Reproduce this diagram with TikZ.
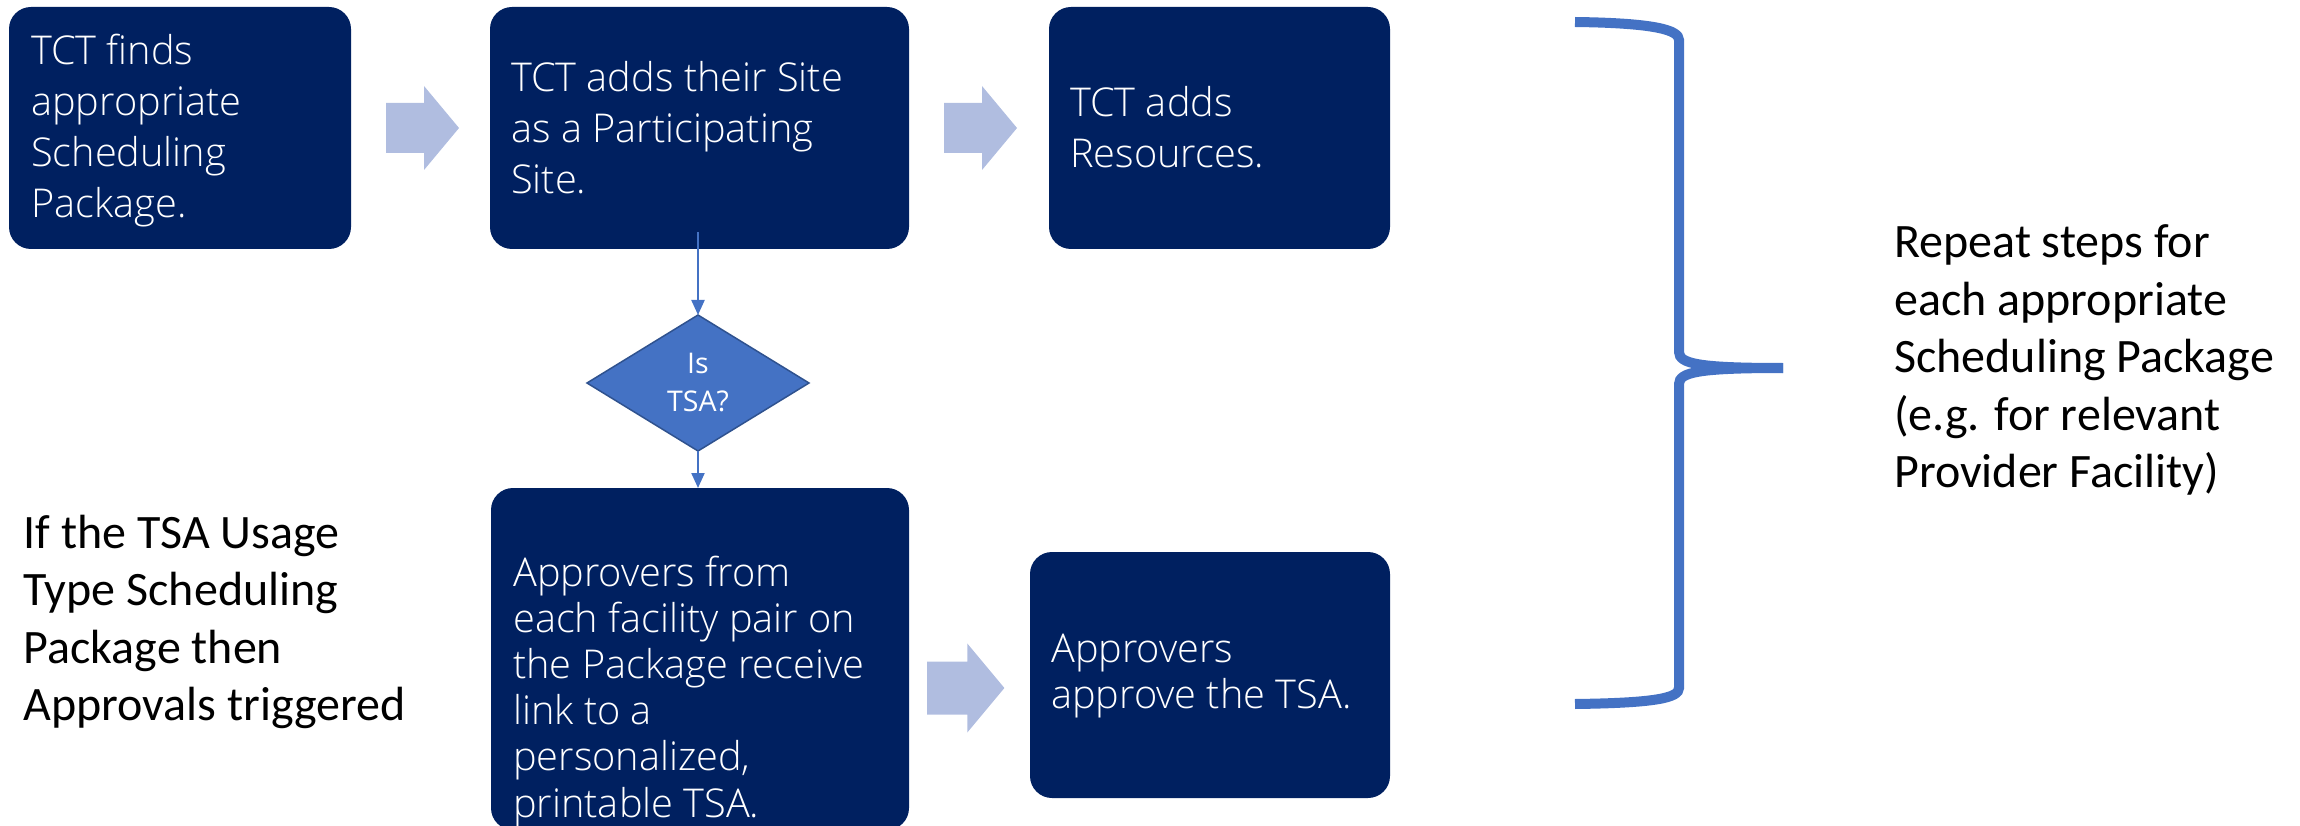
\documentclass[tikz,border=0pt]{standalone}
\usepackage{fontspec}
\usetikzlibrary{shapes.geometric,arrows.meta}
\newfontfamily\boxfont{Open Sans Light}
\newfontfamily\calfont{Carlito}
\newfontfamily\dfont{Open Sans}
\definecolor{navy}{HTML}{002060}
\definecolor{accblue}{HTML}{4472C4}
\definecolor{accdark}{HTML}{2F528F}
\definecolor{arrowfill}{HTML}{B0BDE0}
\tikzset{
  stepbox/.style={fill=navy, draw=none, rounded corners=22pt, inner sep=0pt, outer sep=0pt, anchor=north west},
  boxtext/.style={anchor=base west, inner sep=0pt, text=white, font=\boxfont\fontsize{39.7}{51}\selectfont},
  boxtextsm/.style={anchor=base west, inner sep=0pt, text=white, font=\boxfont\fontsize{39.7}{46.2}\selectfont},
  sidetext/.style={anchor=base west, inner sep=0pt, text=black, font=\calfont\fontsize{48}{57.5}\selectfont},
  decision/.style={diamond, fill=accblue, draw=accdark, line width=1.5pt, inner sep=0pt, outer sep=0pt,
    minimum width=222pt, minimum height=136pt, text=white, align=center, font=\dfont\fontsize{28.5}{38}\selectfont},
  conn/.style={draw=accblue, line width=2.2pt, -{Triangle[length=15pt,width=13pt]}},
  bracestyle/.style={draw=accblue, line width=10pt, line cap=butt},
  pics/blockarrow/.style={code={\fill[arrowfill] (0,-25) -- (38,-25) -- (38,-42) -- (73,0) -- (38,42) -- (38,25) -- (0,25) -- cycle;}}
}
\begin{document}
\begin{tikzpicture}[x=1pt,y=-1pt]
\useasboundingbox (0,0) rectangle (2300,826);
% boxes
\node[stepbox, minimum width=342pt, minimum height=242pt] (b1) at (9,7) {};
\node[stepbox, minimum width=419pt, minimum height=242pt] (b2) at (490,7) {};
\node[stepbox, minimum width=341pt, minimum height=242pt] (b3) at (1049,7) {};
\node[stepbox, minimum width=418pt, minimum height=342pt] (b4) at (491,488) {};
\node[stepbox, minimum width=360pt, minimum height=246pt] (b5) at (1030,552) {};
% box texts
\node[boxtext] (t1) at (31,65) {\parbox[t]{320pt}{\raggedright TCT finds\\appropriate\\Scheduling\\Package.}};
\node[boxtext] (t2) at (511,92) {\parbox[t]{400pt}{\raggedright TCT adds their Site\\as a Participating\\Site.}};
\node[boxtext] (t3) at (1070,117) {\parbox[t]{320pt}{\raggedright TCT adds\\Resources.}};
\node[boxtextsm] (t4) at (513,586) {\parbox[t]{400pt}{\raggedright Approvers from\\each facility pair on\\the Package receive\\link to a\\personalized,\\printable TSA.}};
\node[boxtextsm] (t5) at (1051,662) {\parbox[t]{340pt}{\raggedright Approvers\\approve the TSA.}};
% block arrows
\pic at (386,128) {blockarrow};
\pic at (944,128) {blockarrow};
\pic[scale=1.06] at (927,688) {blockarrow};
% decision
\node[decision] (d) at (698,383) {Is\\TSA?};
\draw[conn] ([yshift=17pt]b2.south -| d.north) -- (d.north);
\draw[conn] (d.south) -- (d.south |- b4.north);
% side texts
\node[sidetext] (left) at (23.5,548) {\parbox[t]{400pt}{\raggedright If the TSA Usage\\Type Scheduling\\Package then\\Approvals triggered}};
\node[sidetext] (right) at (1894,258) {\parbox[t]{400pt}{\raggedright Repeat steps for\\each appropriate\\Scheduling Package\\(e.g. for relevant\\Provider Facility)}};
% brace
\coordinate (tip) at (1783,368);
\draw[bracestyle] (1575,22) .. controls (1655,23) and (1679,30) .. (1679,40) -- (1679,352) .. controls (1679,364) and (1700,368) .. (tip);
\draw[bracestyle] (tip) .. controls (1700,368) and (1679,372) .. (1679,384) -- (1679,688) .. controls (1679,698) and (1655,703) .. (1575,704);
\end{tikzpicture}
\end{document}
